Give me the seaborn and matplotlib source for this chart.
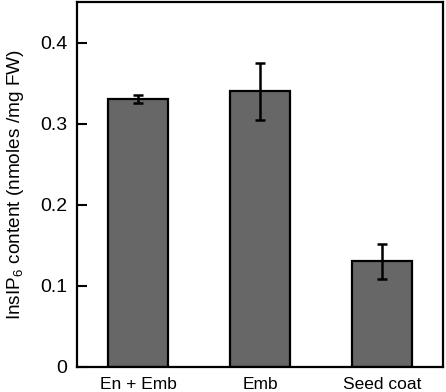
import numpy as np
import pandas as pd
import seaborn as sns
import matplotlib.pyplot as plt
from matplotlib.ticker import FixedLocator, FuncFormatter

# data
samples = ["En + Emb", "Emb", "Seed coat"]
content = [0.330, 0.340, 0.130]
errors = [0.005, 0.035, 0.022]

sns.set_style("white")
plt.rcParams['font.family'] = ['Liberation Sans', 'DejaVu Sans']
plt.rcParams['mathtext.fontset'] = 'custom'
plt.rcParams['mathtext.rm'] = 'Liberation Sans'
plt.rcParams['mathtext.it'] = 'Liberation Sans:italic'
plt.rcParams['text.color'] = 'black'
plt.rcParams['axes.labelcolor'] = 'black'
plt.rcParams['xtick.color'] = 'black'
plt.rcParams['ytick.color'] = 'black'

df = pd.DataFrame({"sample": samples, "content": content})

fig = plt.figure(figsize=(4.46, 3.92), dpi=100)
ax = fig.add_axes([0.173, 0.064, 0.82, 0.931])

sns.barplot(data=df, x="sample", y="content", color="#676767", saturation=1,
            width=0.49, edgecolor="black", linewidth=1.6, errorbar=None, ax=ax)
ax.errorbar(np.arange(len(samples)), content, yerr=errors, fmt="none",
            ecolor="black", elinewidth=1.8, capsize=3.3, capthick=1.8)

ax.set_xlim(-0.5, 2.5)
ax.set_ylim(0, 0.45)
ax.set_yticks([0, 0.1, 0.2, 0.3, 0.4])
ax.yaxis.set_major_formatter(FuncFormatter(lambda v, p: "0" if v == 0 else f"{v:.1f}"))
ax.xaxis.set_minor_locator(FixedLocator([0.5, 1.5]))
ax.tick_params(axis="x", which="major", length=0, labelsize=12.5, pad=7)
ax.tick_params(axis="x", which="minor", direction="in", length=5, width=1.3)
ax.tick_params(axis="y", direction="in", length=7, width=1.5, labelsize=14, pad=7, left=True)
ax.set_xlabel("")
ax.set_ylabel("InsIP$_6$ content (nmoles /mg FW)", fontsize=13.7, labelpad=10)
for s in ax.spines.values():
    s.set_visible(True)
    s.set_color("black")
    s.set_linewidth(1.6)

fig.savefig("out.png", dpi=100)
